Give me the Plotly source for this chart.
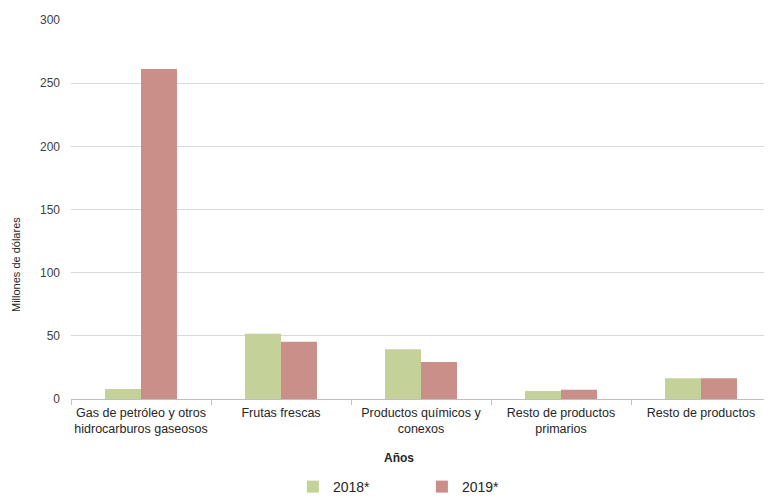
import plotly.graph_objects as go

categories = ["Gas de petróleo y otros<br>hidrocarburos gaseosos", "Frutas frescas",
              "Productos químicos y<br>conexos", "Resto de productos<br>primarios", "Resto de productos"]
values_2018 = [7.9, 51.7, 39.4, 6.3, 16.4]
values_2019 = [261.3, 45.4, 29.3, 7.4, 16.4]
series_names = ["2018*", "2019*"]
y_ticks = [0, 50, 100, 150, 200, 250, 300]

fig = go.Figure()
fig.add_trace(go.Bar(x=categories, y=values_2018, name=series_names[0],
                     marker=dict(color="#C4D29A", line=dict(width=0))))
fig.add_trace(go.Bar(x=categories, y=values_2019, name=series_names[1],
                     marker=dict(color="#CA8F88", line=dict(width=0))))

fig.update_layout(
    width=764, height=490,
    margin=dict(l=63, r=1, t=12, b=99, autoexpand=False),
    paper_bgcolor="white", plot_bgcolor="white",
    font=dict(family="Liberation Sans, Arial, sans-serif", size=11, color="#404040"),
    barmode="group", bargap=0.486, bargroupgap=0,
    showlegend=True,
    legend=dict(orientation="h", x=0.317, xanchor="left", y=-0.19, yanchor="top",
                font=dict(size=14, color="#262626"), entrywidth=84, traceorder="normal",
                itemwidth=30, tracegroupgap=0, borderwidth=0),
    xaxis=dict(
        automargin=False, tickangle=0,
        showline=True, linecolor="#bfbfbf", linewidth=1,
        ticks="outside", tickson="boundaries", ticklen=5, tickcolor="#bfbfbf",
        tickfont=dict(size=12.5, color="#262626"), ticklabelstandoff=2,
        showgrid=False,
    ),
    yaxis=dict(
        automargin=False,
        range=[0, 300], tickvals=y_ticks, showgrid=True, gridcolor="#d9d9d9", gridwidth=1,
        zeroline=False, showline=False, ticks="",
        tickfont=dict(size=12, color="#404040"), ticklabelstandoff=10,
    ),
    annotations=[
        dict(text="Millones de dólares", textangle=-90, xref="paper", yref="paper",
             x=(16 - 71) / 700, y=(399 - 265) / 379, xanchor="center", yanchor="middle",
             showarrow=False, font=dict(size=11, color="#262626")),
        dict(text="<b>Años</b>", xref="paper", yref="paper",
             x=(399 - 71) / 700, y=(399 - 458) / 379, xanchor="center", yanchor="middle",
             showarrow=False, font=dict(size=12, color="#262626")),
    ],
)

fig.write_html("out.html")
